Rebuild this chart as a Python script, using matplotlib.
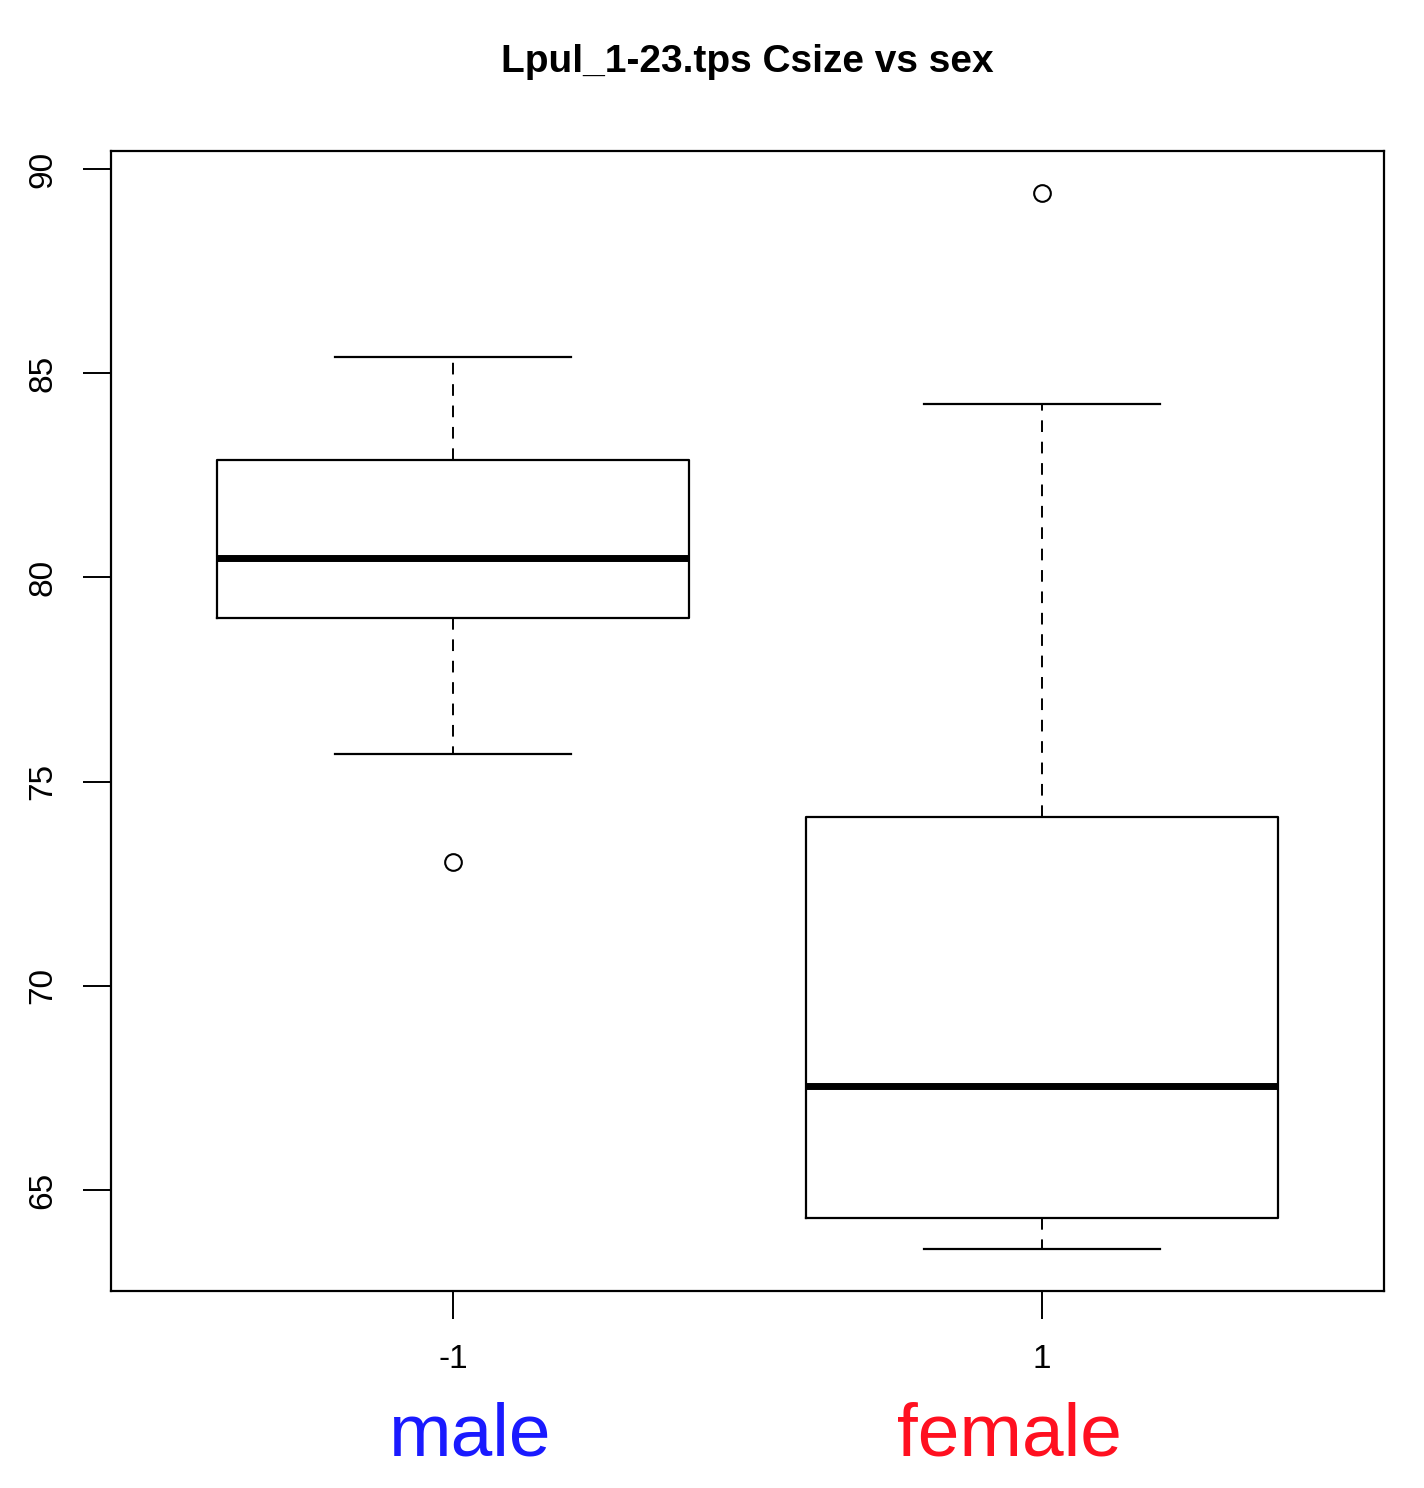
import matplotlib
matplotlib.use("Agg")
import matplotlib.pyplot as plt

groups = ["-1", "1"]
names = ["male", "female"]
name_colors = ["#1a1aff", "#ff1020"]
name_offsets = [0.03, -0.055]
whislo = [75.68, 63.56]
q1 = [79.01, 64.31]
med = [80.48, 67.55]
q3 = [82.87, 74.13]
whishi = [85.40, 84.25]
fliers = [[73.03], [89.41]]

plt.rcParams['font.family'] = ['Liberation Sans', 'DejaVu Sans']
fig = plt.figure(figsize=(14.24, 14.88), dpi=100)
ax = fig.add_axes([111/1424, 1 - 1291/1488, 1273/1424, 1140/1488])
stats = [dict(whislo=whislo[i], q1=q1[i], med=med[i], q3=q3[i], whishi=whishi[i],
              fliers=fliers[i], label=groups[i]) for i in range(2)]
ax.bxp(stats, positions=[1, 2], widths=0.8, patch_artist=False,
       boxprops=dict(color='black', linewidth=1.6),
       medianprops=dict(color='black', linewidth=5, solid_capstyle='butt'),
       whiskerprops=dict(color='black', linewidth=1.4, linestyle=(0, (6, 5))),
       capprops=dict(color='black', linewidth=1.6), capwidths=0.4,
       flierprops=dict(marker='o', markerfacecolor='none', markeredgecolor='black',
                       markersize=12, markeredgewidth=1.5))
ax.set_xlim(0.42, 2.58)
ax.set_ylim(62.53, 90.44)
ax.set_yticks([65, 70, 75, 80, 85, 90])
ax.set_yticklabels(["65", "70", "75", "80", "85", "90"], rotation=90, va='center', fontsize=24)
ax.set_xticks([1, 2])
ax.set_xticklabels(groups, fontsize=24)
ax.tick_params(length=20, width=1.4, pad=18)
for s in ax.spines.values():
    s.set_linewidth(1.6)
fig.text(0.525, 1 - 62/1488, "Lpul_1-23.tps Csize vs sex", fontsize=28, fontweight='bold',
         ha='center', va='center')
for i in range(2):
    ax.text([1, 2][i] + name_offsets[i], -0.127, names[i], color=name_colors[i], fontsize=54,
            ha='center', va='center', transform=ax.get_xaxis_transform())
fig.savefig("out.png", dpi=100)
